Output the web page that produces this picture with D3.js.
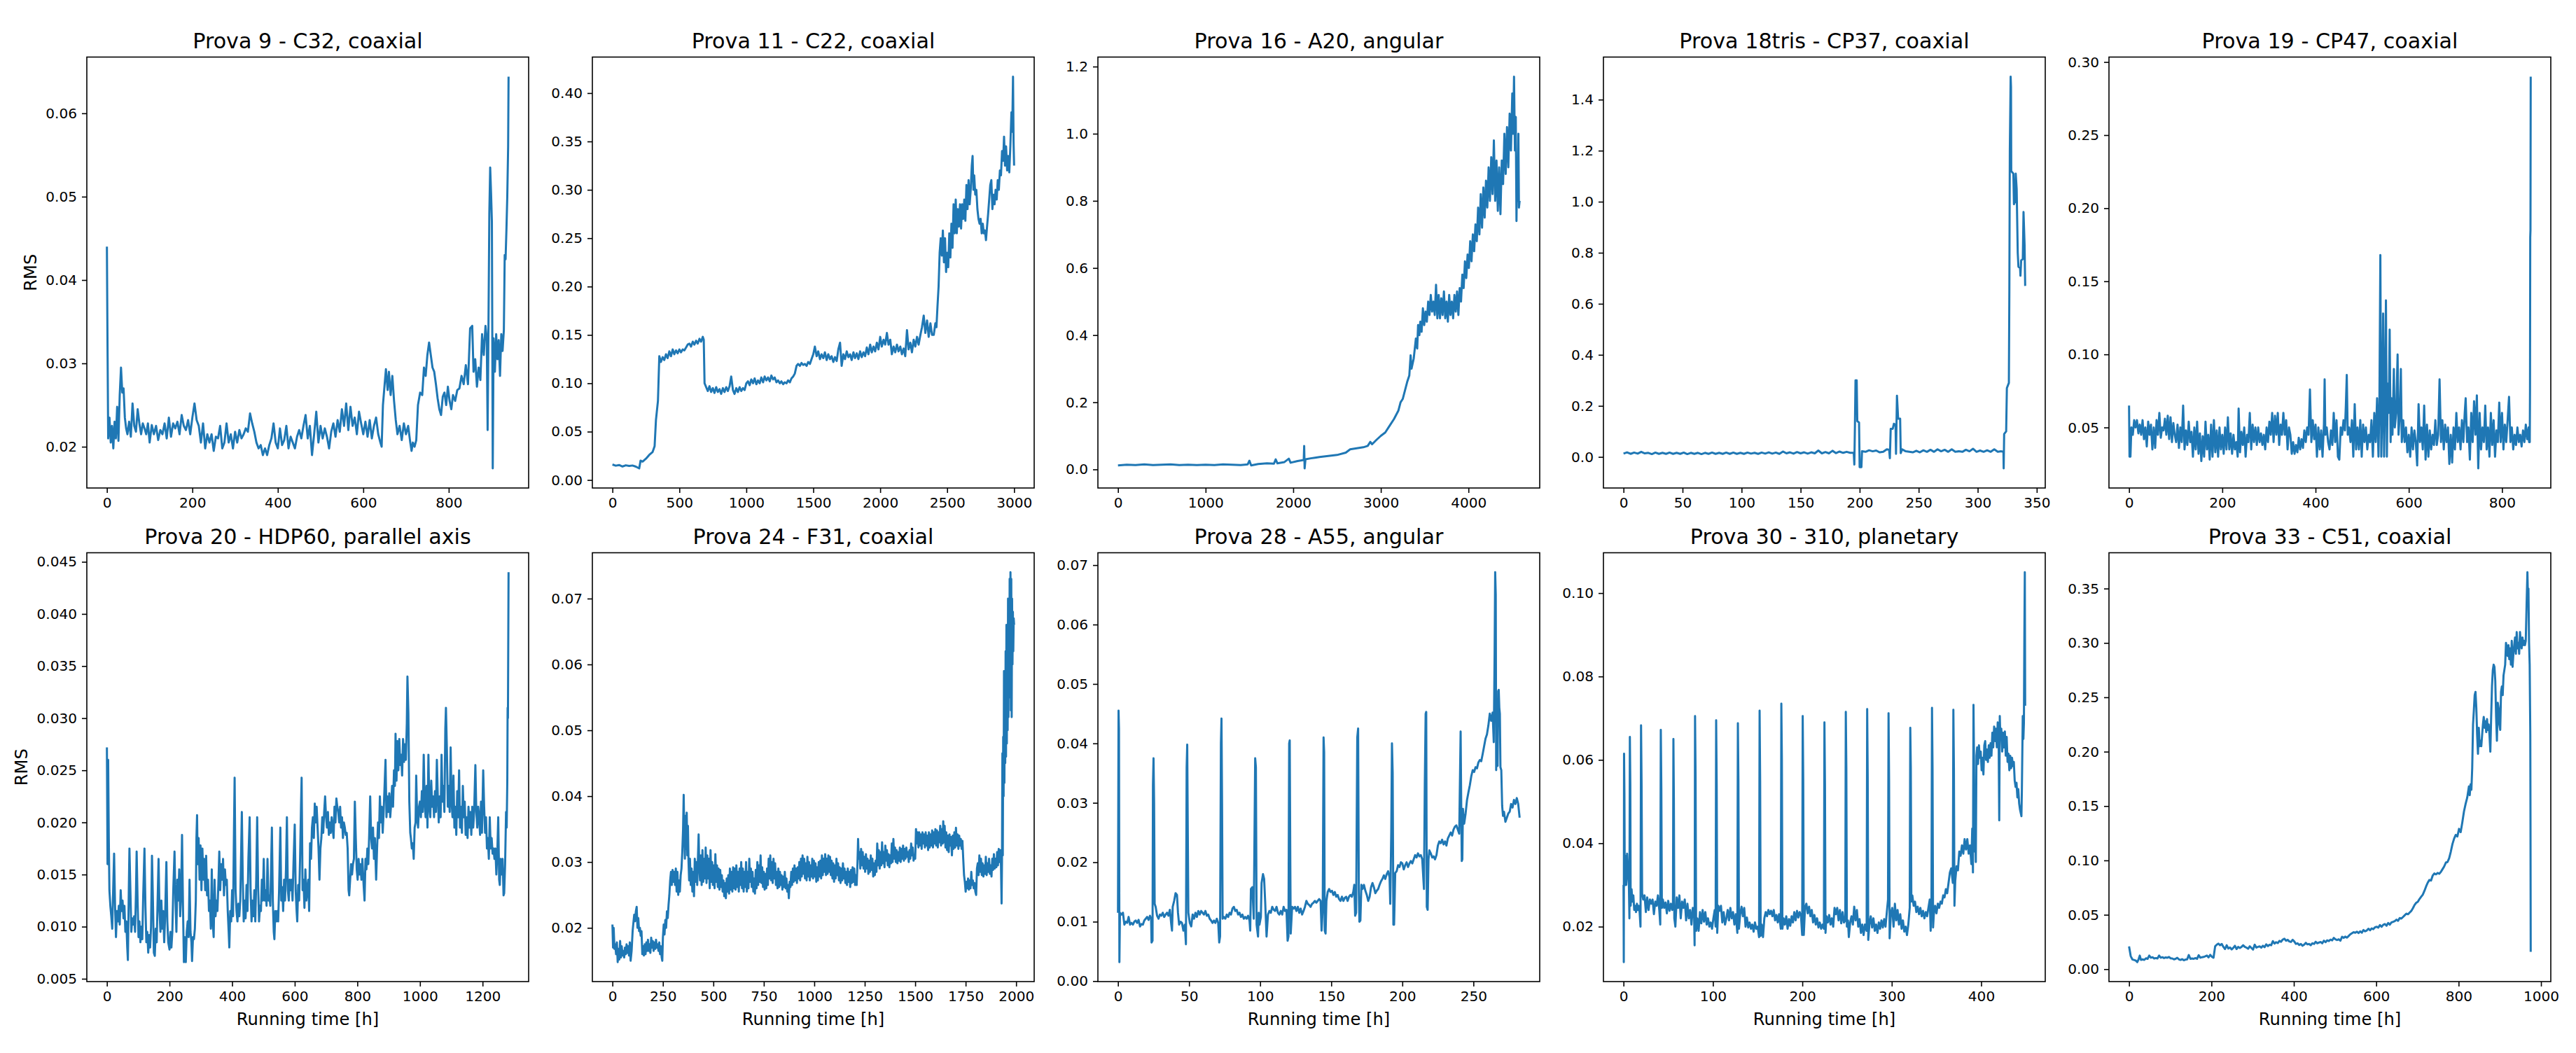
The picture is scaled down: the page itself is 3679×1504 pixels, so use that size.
<!DOCTYPE html>
<html>
<head>
<meta charset="utf-8">
<script src="https://cdn.jsdelivr.net/npm/d3@7"></script>
<style>
  body { margin: 0; background: #fff; }
  svg { display: block; }
  text { font-family: "DejaVu Sans", sans-serif; fill: #000; }
</style>
</head>
<body>
<svg id="fig" width="3679" height="1504"></svg>
<script>
// ---- data: [running time h, RMS] ----
const prova9 = [[0,0.044],[1,0.0355],[3,0.021],[6,0.0235],[9,0.0205],[12,0.0225],[15,0.0198],[18,0.023],[21,0.021],[24,0.0248],[27,0.0207],[30,0.0262],[33,0.0295],[36,0.0265],[39,0.027],[42,0.0235],[45,0.0222],[48,0.0215],[52,0.023],[56,0.0212],[60,0.0252],[64,0.0225],[68,0.0218],[72,0.0245],[76,0.0228],[80,0.0215],[84,0.0228],[88,0.0222],[92,0.0215],[96,0.0228],[100,0.0205],[105,0.0226],[110,0.0215],[115,0.0225],[120,0.0208],[125,0.022],[130,0.0215],[135,0.0228],[140,0.021],[145,0.0235],[150,0.0212],[155,0.0228],[160,0.0222],[165,0.023],[170,0.0215],[175,0.0238],[180,0.0225],[185,0.022],[190,0.0232],[195,0.0215],[200,0.0235],[205,0.0252],[210,0.0232],[215,0.0225],[220,0.0205],[225,0.0228],[230,0.0198],[235,0.0215],[240,0.0205],[245,0.0215],[250,0.0195],[255,0.0212],[260,0.021],[265,0.0225],[270,0.0198],[275,0.0205],[280,0.0228],[285,0.0205],[290,0.0215],[295,0.0198],[300,0.0218],[305,0.0205],[310,0.022],[315,0.021],[320,0.0215],[325,0.0222],[330,0.0218],[335,0.024],[340,0.0228],[345,0.0218],[350,0.0205],[355,0.0198],[360,0.0202],[365,0.019],[370,0.0198],[375,0.019],[380,0.0202],[385,0.021],[390,0.0228],[395,0.0205],[400,0.0198],[405,0.0222],[410,0.0202],[415,0.0208],[420,0.0225],[425,0.0198],[430,0.0212],[435,0.0205],[440,0.0198],[445,0.0212],[450,0.022],[455,0.021],[460,0.0225],[465,0.0238],[470,0.021],[475,0.0225],[480,0.019],[485,0.0215],[490,0.0242],[495,0.0205],[500,0.0225],[505,0.021],[510,0.0222],[515,0.0212],[520,0.0198],[525,0.0218],[530,0.0228],[535,0.0212],[540,0.0232],[545,0.0218],[550,0.0245],[555,0.0225],[560,0.0252],[565,0.022],[570,0.0248],[575,0.0225],[580,0.0235],[585,0.0215],[590,0.0242],[595,0.0228],[600,0.0215],[605,0.023],[610,0.0212],[615,0.0232],[620,0.021],[625,0.0225],[630,0.0235],[635,0.0215],[640,0.0205],[643,0.02],[646,0.025],[650,0.0275],[653,0.0293],[657,0.0268],[660,0.029],[664,0.0262],[668,0.0285],[672,0.0255],[676,0.0232],[680,0.0215],[685,0.0225],[690,0.0208],[695,0.0228],[700,0.0215],[705,0.0225],[710,0.0205],[713,0.0195],[716,0.0205],[720,0.02],[724,0.0208],[728,0.025],[733,0.0265],[738,0.0262],[742,0.0295],[746,0.0285],[750,0.031],[754,0.0325],[758,0.031],[762,0.0295],[766,0.029],[770,0.0275],[774,0.0258],[778,0.0245],[782,0.0238],[786,0.026],[790,0.0265],[794,0.025],[798,0.0272],[802,0.0255],[806,0.0245],[810,0.0262],[815,0.0255],[820,0.0268],[825,0.027],[830,0.0285],[835,0.0275],[840,0.0298],[845,0.0275],[850,0.0342],[855,0.0345],[858,0.029],[862,0.0305],[866,0.0272],[870,0.0295],[874,0.028],[878,0.0335],[882,0.031],[886,0.0345],[889,0.033],[891,0.022],[893,0.0345],[895,0.048],[897,0.0535],[899,0.0505],[901,0.047],[903,0.0174],[905,0.033],[908,0.029],[911,0.0335],[914,0.0305],[917,0.0328],[920,0.0285],[923,0.0335],[926,0.0315],[929,0.034],[931,0.043],[933,0.0425],[935,0.046],[937,0.05],[939,0.056],[940,0.0644]];

const prova11 = [[0,0.016],[25,0.0148],[50,0.0155],[75,0.014],[100,0.0152],[125,0.0145],[150,0.015],[175,0.0138],[200,0.012],[210,0.02],[225,0.019],[250,0.022],[275,0.026],[300,0.029],[315,0.035],[325,0.062],[340,0.082],[350,0.128],[362,0.122],[375,0.127],[387,0.124],[400,0.13],[412,0.126],[425,0.133],[437,0.128],[450,0.135],[462,0.13],[475,0.134],[487,0.131],[500,0.135],[512,0.132],[525,0.135],[537,0.134],[550,0.137],[562,0.14],[575,0.141],[587,0.138],[600,0.143],[612,0.14],[625,0.144],[637,0.141],[650,0.146],[662,0.143],[675,0.148],[682,0.145],[688,0.1],[700,0.096],[712,0.092],[725,0.097],[737,0.091],[750,0.095],[762,0.09],[775,0.096],[787,0.091],[800,0.094],[812,0.089],[825,0.095],[837,0.091],[850,0.096],[862,0.092],[875,0.097],[887,0.107],[900,0.093],[912,0.089],[925,0.095],[937,0.091],[950,0.096],[962,0.092],[975,0.095],[987,0.093],[1000,0.1],[1012,0.102],[1025,0.098],[1037,0.104],[1050,0.1],[1062,0.105],[1075,0.099],[1087,0.103],[1100,0.1],[1112,0.106],[1125,0.101],[1137,0.107],[1150,0.103],[1162,0.106],[1175,0.102],[1187,0.108],[1200,0.104],[1212,0.106],[1225,0.101],[1237,0.103],[1250,0.1],[1262,0.102],[1275,0.099],[1287,0.101],[1300,0.1],[1312,0.103],[1325,0.101],[1337,0.105],[1350,0.107],[1362,0.11],[1375,0.118],[1387,0.12],[1400,0.118],[1412,0.121],[1425,0.119],[1437,0.12],[1450,0.118],[1462,0.122],[1475,0.12],[1487,0.125],[1500,0.13],[1512,0.138],[1525,0.128],[1537,0.133],[1550,0.125],[1562,0.13],[1575,0.126],[1587,0.132],[1600,0.124],[1612,0.13],[1625,0.125],[1637,0.128],[1650,0.122],[1662,0.127],[1675,0.123],[1687,0.135],[1700,0.142],[1712,0.118],[1725,0.13],[1737,0.125],[1750,0.133],[1762,0.127],[1775,0.13],[1787,0.124],[1800,0.132],[1812,0.126],[1825,0.131],[1837,0.125],[1850,0.133],[1862,0.127],[1875,0.132],[1887,0.128],[1900,0.137],[1912,0.13],[1925,0.14],[1937,0.132],[1950,0.138],[1962,0.133],[1975,0.142],[1987,0.135],[2000,0.148],[2012,0.138],[2025,0.145],[2037,0.14],[2050,0.152],[2062,0.14],[2075,0.145],[2087,0.13],[2100,0.138],[2112,0.132],[2125,0.14],[2137,0.133],[2150,0.138],[2162,0.13],[2175,0.136],[2187,0.128],[2200,0.155],[2212,0.135],[2225,0.142],[2237,0.132],[2250,0.145],[2262,0.138],[2275,0.148],[2287,0.14],[2300,0.15],[2312,0.158],[2325,0.17],[2337,0.152],[2350,0.165],[2362,0.148],[2375,0.162],[2387,0.15],[2400,0.15],[2412,0.162],[2420,0.158],[2428,0.18],[2436,0.2],[2444,0.235],[2452,0.25],[2460,0.232],[2468,0.258],[2476,0.225],[2484,0.25],[2492,0.215],[2500,0.235],[2508,0.22],[2516,0.255],[2524,0.23],[2532,0.265],[2540,0.24],[2548,0.285],[2556,0.255],[2564,0.29],[2572,0.255],[2580,0.28],[2588,0.262],[2596,0.285],[2604,0.26],[2612,0.285],[2620,0.27],[2628,0.29],[2636,0.268],[2644,0.305],[2652,0.28],[2660,0.31],[2668,0.285],[2676,0.3],[2684,0.325],[2690,0.335],[2696,0.3],[2702,0.315],[2710,0.295],[2718,0.3],[2726,0.28],[2734,0.27],[2742,0.265],[2750,0.27],[2758,0.255],[2766,0.265],[2774,0.255],[2782,0.258],[2790,0.248],[2798,0.262],[2806,0.275],[2814,0.29],[2822,0.305],[2830,0.31],[2838,0.28],[2846,0.295],[2854,0.285],[2862,0.3],[2870,0.29],[2878,0.31],[2886,0.3],[2894,0.32],[2902,0.315],[2910,0.34],[2918,0.33],[2925,0.355],[2932,0.325],[2940,0.345],[2948,0.32],[2956,0.335],[2964,0.318],[2972,0.345],[2980,0.38],[2986,0.36],[2992,0.417],[2996,0.35],[3000,0.325]];

const prova16 = [[0,0.012],[100,0.014],[200,0.013],[300,0.015],[400,0.013],[500,0.014],[600,0.015],[700,0.013],[800,0.014],[900,0.013],[1000,0.014],[1100,0.013],[1200,0.015],[1300,0.014],[1400,0.013],[1480,0.015],[1500,0.026],[1520,0.012],[1600,0.016],[1700,0.018],[1780,0.017],[1800,0.03],[1820,0.018],[1900,0.022],[1950,0.032],[1970,0.02],[2050,0.025],[2120,0.028],[2125,0.07],[2130,0.003],[2140,0.03],[2200,0.033],[2250,0.035],[2300,0.037],[2400,0.04],[2500,0.043],[2600,0.05],[2650,0.06],[2700,0.062],[2800,0.066],[2850,0.07],[2880,0.082],[2900,0.075],[2950,0.088],[3000,0.1],[3050,0.11],[3100,0.13],[3150,0.15],[3200,0.175],[3225,0.2],[3250,0.21],[3275,0.235],[3300,0.26],[3325,0.28],[3340,0.34],[3350,0.3],[3375,0.33],[3400,0.39],[3415,0.36],[3425,0.43],[3440,0.4],[3450,0.44],[3465,0.41],[3480,0.48],[3495,0.43],[3510,0.47],[3525,0.44],[3540,0.5],[3555,0.46],[3570,0.52],[3585,0.47],[3600,0.5],[3615,0.46],[3630,0.55],[3645,0.45],[3660,0.52],[3675,0.45],[3690,0.51],[3705,0.46],[3720,0.53],[3735,0.45],[3750,0.5],[3765,0.44],[3780,0.52],[3795,0.46],[3810,0.5],[3825,0.45],[3840,0.52],[3855,0.47],[3870,0.53],[3885,0.46],[3900,0.54],[3915,0.5],[3930,0.58],[3945,0.54],[3960,0.62],[3975,0.57],[3990,0.64],[4005,0.6],[4020,0.68],[4035,0.62],[4050,0.7],[4065,0.65],[4080,0.73],[4095,0.68],[4110,0.78],[4125,0.7],[4140,0.82],[4155,0.72],[4170,0.84],[4185,0.75],[4200,0.86],[4215,0.78],[4230,0.9],[4245,0.8],[4260,0.93],[4275,0.82],[4290,0.98],[4305,0.8],[4320,0.92],[4335,0.77],[4350,0.9],[4365,0.76],[4380,0.92],[4395,0.85],[4410,1.0],[4425,0.88],[4440,1.02],[4455,0.9],[4470,1.06],[4485,0.95],[4500,1.12],[4510,1.0],[4520,1.17],[4530,0.95],[4540,1.05],[4548,0.74],[4555,0.9],[4562,0.8],[4570,1.0],[4576,0.78],[4584,0.8]];

const prova18tris = [[0,0.013],[3,0.018],[6,0.012],[9,0.017],[12,0.013],[15,0.02],[18,0.014],[21,0.016],[24,0.011],[27,0.017],[30,0.012],[33,0.016],[36,0.012],[39,0.017],[42,0.012],[45,0.016],[48,0.012],[51,0.017],[54,0.011],[57,0.016],[60,0.012],[63,0.016],[66,0.011],[69,0.016],[72,0.012],[75,0.017],[78,0.012],[81,0.016],[84,0.012],[87,0.017],[90,0.012],[93,0.017],[96,0.012],[99,0.016],[102,0.012],[105,0.017],[108,0.013],[111,0.016],[114,0.012],[117,0.017],[120,0.013],[123,0.018],[126,0.013],[129,0.017],[132,0.012],[135,0.021],[138,0.014],[141,0.018],[144,0.013],[147,0.019],[150,0.014],[153,0.018],[156,0.013],[159,0.018],[162,0.014],[165,0.025],[168,0.014],[171,0.019],[174,0.014],[177,0.024],[180,0.015],[183,0.021],[186,0.016],[189,0.02],[192,0.016],[195,0.017],[195.5,-0.03],[196,0.12],[196.5,0.3],[197.5,0.3],[198,0.14],[199.5,0.135],[200,-0.04],[201.5,-0.04],[202,0.022],[205,0.02],[208,0.026],[211,0.022],[214,0.025],[217,0.018],[220,0.02],[223,0.03],[225,0.028],[225.6,-0.005],[226.3,0.11],[228,0.11],[229,0.13],[230.4,0.125],[230.8,0.012],[231.6,0.24],[232.6,0.15],[234.3,0.15],[234.8,0.015],[236,0.03],[239,0.022],[242,0.02],[245,0.018],[248,0.024],[251,0.018],[254,0.026],[257,0.02],[260,0.028],[263,0.02],[266,0.03],[269,0.022],[272,0.028],[275,0.02],[278,0.03],[281,0.02],[284,0.022],[287,0.02],[290,0.028],[293,0.022],[296,0.032],[299,0.02],[302,0.025],[305,0.02],[308,0.026],[311,0.02],[314,0.03],[317,0.02],[320,0.022],[321.8,0.02],[322,-0.045],[322.4,0.09],[324.1,0.1],[324.7,0.27],[326.4,0.29],[326.8,0.65],[327.2,1.2],[327.9,1.49],[328.2,1.45],[328.4,1.12],[330.2,1.11],[330.7,0.99],[331.6,1.0],[332.2,1.11],[333,1.05],[333.9,0.8],[334.5,0.745],[335.9,0.74],[336.2,0.71],[336.8,0.77],[338.2,0.775],[338.8,0.96],[339.7,0.83],[340.2,0.67]];

const prova19 = [[0,0.065],[1,0.03],[3,0.03],[5,0.05],[8,0.045],[11,0.055],[14,0.05],[17,0.055],[20,0.046],[23,0.052],[26,0.045],[29,0.055],[32,0.042],[35,0.05],[38,0.037],[41,0.054],[44,0.045],[47,0.052],[50,0.035],[53,0.05],[56,0.036],[59,0.055],[62,0.045],[65,0.06],[68,0.043],[71,0.05],[74,0.048],[77,0.056],[80,0.045],[83,0.058],[86,0.042],[89,0.057],[92,0.04],[95,0.053],[98,0.045],[101,0.04],[104,0.052],[107,0.036],[110,0.05],[113,0.04],[116,0.065],[119,0.035],[122,0.048],[125,0.038],[128,0.054],[131,0.04],[134,0.047],[137,0.03],[140,0.05],[143,0.035],[146,0.054],[149,0.032],[152,0.046],[155,0.027],[158,0.044],[161,0.03],[164,0.054],[167,0.035],[170,0.045],[173,0.028],[176,0.052],[179,0.03],[182,0.055],[185,0.033],[188,0.048],[191,0.03],[194,0.05],[197,0.035],[200,0.045],[203,0.032],[206,0.05],[209,0.035],[212,0.057],[215,0.035],[218,0.046],[221,0.032],[224,0.045],[227,0.035],[230,0.04],[233,0.03],[235,0.063],[238,0.033],[241,0.047],[244,0.038],[247,0.05],[250,0.03],[253,0.045],[256,0.04],[259,0.06],[262,0.035],[265,0.052],[268,0.04],[271,0.05],[274,0.038],[277,0.05],[280,0.04],[283,0.046],[286,0.038],[289,0.045],[292,0.035],[295,0.05],[298,0.04],[301,0.054],[304,0.045],[307,0.06],[310,0.04],[313,0.058],[316,0.045],[319,0.06],[322,0.038],[325,0.052],[328,0.045],[331,0.06],[334,0.045],[337,0.055],[340,0.035],[343,0.05],[346,0.045],[349,0.032],[352,0.04],[355,0.032],[358,0.038],[361,0.033],[364,0.043],[367,0.035],[370,0.042],[373,0.036],[376,0.048],[379,0.04],[382,0.05],[385,0.045],[388,0.076],[391,0.04],[394,0.055],[397,0.042],[400,0.052],[403,0.03],[406,0.05],[409,0.035],[412,0.048],[415,0.03],[418,0.052],[419.5,0.083],[421,0.045],[424,0.05],[427,0.04],[430,0.035],[433,0.048],[436,0.038],[439,0.06],[442,0.04],[445,0.055],[448,0.03],[451,0.028],[454,0.05],[457,0.045],[460,0.055],[463,0.048],[465,0.065],[467,0.086],[469,0.045],[472,0.05],[475,0.04],[478,0.055],[481,0.03],[484,0.066],[487,0.035],[490,0.05],[493,0.035],[496,0.055],[499,0.03],[502,0.052],[505,0.04],[508,0.05],[511,0.035],[514,0.045],[517,0.04],[520,0.055],[523,0.03],[526,0.06],[529,0.04],[532,0.07],[535,0.03],[537,0.068],[539,0.168],[541,0.03],[543,0.06],[545,0.128],[547,0.03],[549,0.07],[551,0.137],[553,0.03],[555,0.08],[557,0.06],[559,0.117],[561,0.04],[563,0.07],[565,0.045],[568,0.09],[570,0.05],[573,0.06],[576,0.1],[578,0.045],[581,0.06],[583,0.09],[585,0.04],[588,0.055],[591,0.04],[594,0.05],[597,0.033],[600,0.045],[603,0.03],[606,0.05],[609,0.035],[612,0.048],[615,0.04],[618,0.024],[621,0.066],[624,0.04],[627,0.05],[630,0.035],[633,0.065],[636,0.028],[639,0.052],[642,0.03],[645,0.048],[648,0.035],[651,0.045],[654,0.038],[657,0.055],[660,0.038],[663,0.045],[666,0.083],[669,0.04],[672,0.055],[675,0.035],[678,0.052],[681,0.04],[684,0.05],[687,0.025],[690,0.045],[693,0.026],[696,0.05],[699,0.035],[702,0.06],[705,0.04],[708,0.05],[711,0.035],[714,0.055],[717,0.04],[720,0.06],[722,0.07],[725,0.04],[728,0.05],[731,0.028],[734,0.06],[737,0.04],[740,0.068],[743,0.045],[746,0.072],[749,0.022],[752,0.06],[755,0.035],[758,0.05],[761,0.04],[764,0.065],[767,0.035],[770,0.05],[773,0.03],[776,0.06],[779,0.038],[782,0.055],[785,0.03],[788,0.048],[791,0.04],[794,0.067],[797,0.04],[800,0.06],[803,0.035],[806,0.052],[809,0.04],[812,0.055],[815,0.071],[818,0.04],[821,0.05],[824,0.035],[827,0.045],[830,0.038],[833,0.05],[836,0.04],[839,0.045],[842,0.037],[845,0.048],[848,0.04],[851,0.052],[854,0.042],[857,0.05],[858,0.04],[859.5,0.04],[860,0.075],[860.5,0.18],[861,0.185],[861.5,0.29]];

const prova20 = [[0,0.0272],[2,0.016],[4,0.026],[6,0.0185],[8,0.0135],[11,0.012],[14,0.011],[17,0.0098],[20,0.0135],[23,0.017],[26,0.012],[29,0.009],[32,0.0115],[35,0.0105],[38,0.012],[41,0.0102],[44,0.0135],[47,0.0115],[50,0.0125],[53,0.0108],[56,0.012],[59,0.0095],[62,0.0105],[65,0.008],[67,0.0068],[70,0.0135],[72,0.0175],[75,0.0135],[78,0.0095],[81,0.0108],[84,0.0102],[87,0.011],[90,0.0095],[93,0.0135],[95,0.0172],[98,0.0125],[101,0.009],[104,0.0105],[107,0.0085],[110,0.01],[113,0.0088],[116,0.013],[120,0.0175],[123,0.012],[126,0.0085],[129,0.0095],[132,0.0075],[135,0.0092],[138,0.008],[141,0.01],[144,0.0168],[147,0.0125],[150,0.0075],[153,0.0072],[156,0.0098],[159,0.0085],[162,0.0125],[165,0.0165],[168,0.0115],[171,0.0095],[174,0.0125],[177,0.0098],[180,0.0115],[183,0.0085],[186,0.011],[190,0.0162],[193,0.0105],[196,0.0085],[200,0.0078],[203,0.0095],[206,0.008],[209,0.0095],[212,0.0135],[216,0.0172],[219,0.0125],[222,0.0095],[225,0.0145],[228,0.0125],[231,0.0155],[234,0.011],[237,0.013],[240,0.0188],[243,0.012],[246,0.0066],[249,0.009],[252,0.0066],[255,0.0095],[258,0.0105],[261,0.009],[264,0.0145],[267,0.0095],[270,0.0085],[272,0.0067],[275,0.009],[278,0.0088],[281,0.0098],[284,0.0125],[286,0.0185],[288,0.0207],[290,0.016],[293,0.0185],[296,0.0145],[299,0.0178],[302,0.0135],[305,0.0175],[308,0.0145],[311,0.0165],[314,0.0135],[317,0.0168],[320,0.013],[323,0.0145],[326,0.0115],[329,0.0125],[332,0.0098],[335,0.0155],[338,0.0105],[341,0.009],[344,0.0145],[347,0.011],[350,0.0125],[353,0.0115],[356,0.014],[359,0.0172],[362,0.0135],[365,0.016],[368,0.0145],[371,0.0165],[374,0.013],[377,0.0155],[380,0.014],[383,0.0145],[386,0.0115],[389,0.0095],[391,0.008],[394,0.0115],[397,0.0105],[400,0.0135],[403,0.011],[406,0.0195],[408,0.0243],[411,0.0135],[414,0.0115],[417,0.0105],[420,0.0122],[423,0.011],[426,0.0125],[429,0.0175],[431,0.021],[434,0.0145],[437,0.0105],[440,0.0125],[443,0.0108],[446,0.014],[449,0.0115],[452,0.0165],[456,0.0205],[459,0.0135],[462,0.0105],[465,0.0125],[468,0.011],[471,0.0135],[474,0.0105],[477,0.0145],[480,0.0205],[483,0.014],[486,0.0105],[489,0.012],[492,0.0115],[495,0.0145],[498,0.0125],[501,0.0165],[504,0.0125],[507,0.0135],[510,0.012],[513,0.0165],[516,0.0125],[519,0.013],[522,0.012],[525,0.0165],[527,0.0195],[530,0.0125],[533,0.0095],[535,0.0088],[538,0.0115],[541,0.0105],[544,0.0115],[547,0.0105],[550,0.0135],[554,0.0195],[557,0.0125],[560,0.0138],[563,0.0115],[566,0.0145],[569,0.0125],[572,0.0155],[575,0.0205],[578,0.0135],[581,0.0125],[584,0.0145],[587,0.0135],[590,0.0145],[593,0.0125],[596,0.016],[600,0.0198],[603,0.0135],[606,0.0115],[608,0.0105],[611,0.014],[614,0.0125],[617,0.0165],[620,0.0215],[622,0.0243],[625,0.0135],[628,0.0145],[631,0.0118],[634,0.0155],[637,0.0125],[640,0.0135],[643,0.0145],[646,0.0115],[649,0.018],[652,0.0165],[655,0.0195],[658,0.0205],[661,0.0185],[664,0.0218],[667,0.02],[670,0.0215],[673,0.0195],[676,0.0175],[679,0.0145],[682,0.0175],[685,0.0185],[688,0.0205],[691,0.019],[694,0.021],[697,0.0225],[700,0.0205],[703,0.0195],[706,0.021],[709,0.0188],[712,0.02],[715,0.019],[718,0.0205],[721,0.0195],[724,0.0185],[727,0.0215],[730,0.02],[733,0.0223],[736,0.0215],[739,0.021],[742,0.02],[745,0.0215],[748,0.0195],[751,0.0205],[754,0.0185],[757,0.02],[760,0.0195],[763,0.0188],[766,0.019],[769,0.0175],[772,0.0135],[774,0.013],[777,0.0145],[780,0.016],[783,0.015],[786,0.016],[789,0.0165],[792,0.022],[795,0.0185],[798,0.0155],[801,0.0145],[804,0.0165],[807,0.015],[810,0.016],[813,0.0145],[816,0.0165],[820,0.014],[823,0.0125],[826,0.0165],[829,0.0155],[832,0.0175],[835,0.016],[838,0.019],[841,0.0225],[844,0.0185],[847,0.0175],[850,0.0195],[853,0.0165],[856,0.0185],[860,0.0145],[863,0.0175],[866,0.02],[869,0.0185],[872,0.0225],[875,0.02],[878,0.0215],[881,0.019],[884,0.021],[887,0.0235],[890,0.026],[893,0.0205],[896,0.0225],[899,0.021],[902,0.0228],[905,0.0205],[908,0.0218],[911,0.0235],[914,0.0215],[917,0.025],[920,0.0235],[922,0.0285],[925,0.024],[928,0.0278],[931,0.025],[934,0.028],[937,0.0255],[940,0.0265],[943,0.0245],[946,0.028],[949,0.0258],[952,0.0275],[955,0.026],[958,0.0295],[960,0.034],[963,0.0305],[966,0.022],[969,0.019],[971,0.0185],[974,0.0175],[977,0.018],[980,0.0165],[983,0.0195],[986,0.02],[988,0.0245],[991,0.0205],[994,0.0195],[997,0.0215],[1000,0.022],[1003,0.0205],[1006,0.023],[1009,0.021],[1012,0.0265],[1015,0.022],[1018,0.0205],[1021,0.0235],[1024,0.0195],[1027,0.0265],[1030,0.0215],[1033,0.0205],[1036,0.024],[1039,0.0215],[1042,0.0225],[1045,0.0205],[1048,0.023],[1051,0.021],[1054,0.026],[1057,0.0225],[1060,0.02],[1063,0.0225],[1066,0.0205],[1069,0.0265],[1072,0.022],[1075,0.0235],[1078,0.021],[1081,0.029],[1083,0.031],[1086,0.027],[1089,0.0215],[1092,0.0235],[1095,0.021],[1098,0.0272],[1101,0.022],[1104,0.0205],[1107,0.0245],[1110,0.0195],[1113,0.0215],[1116,0.0188],[1119,0.023],[1122,0.0205],[1125,0.025],[1128,0.0195],[1131,0.0215],[1134,0.019],[1137,0.0235],[1140,0.0205],[1143,0.022],[1146,0.0188],[1149,0.0205],[1152,0.0185],[1155,0.0215],[1158,0.0195],[1161,0.021],[1164,0.0188],[1167,0.0215],[1170,0.0195],[1173,0.021],[1177,0.0255],[1180,0.021],[1183,0.0195],[1186,0.0215],[1189,0.0205],[1192,0.0188],[1195,0.022],[1198,0.019],[1202,0.025],[1205,0.0215],[1208,0.019],[1211,0.0205],[1214,0.0175],[1217,0.0185],[1220,0.0165],[1223,0.0205],[1226,0.0175],[1229,0.0185],[1232,0.017],[1235,0.0175],[1238,0.0165],[1241,0.0175],[1244,0.015],[1247,0.017],[1250,0.0205],[1253,0.0145],[1255,0.014],[1258,0.0165],[1261,0.015],[1264,0.0165],[1267,0.013],[1269,0.0132],[1272,0.016],[1275,0.021],[1277,0.0195],[1279,0.024],[1280,0.031],[1281,0.03],[1283,0.044]];

const prova24 = [[0,0.0205],[3,0.017],[6,0.02],[10,0.0168],[14,0.0175],[18,0.016],[22,0.0178],[26,0.0148],[30,0.0168],[34,0.0152],[38,0.018],[42,0.0155],[46,0.0172],[50,0.0158],[54,0.0165],[58,0.0155],[62,0.017],[66,0.016],[70,0.0175],[74,0.0162],[78,0.0172],[82,0.0158],[86,0.0178],[90,0.015],[95,0.0165],[100,0.0195],[104,0.0208],[108,0.022],[112,0.021],[116,0.0225],[120,0.0232],[124,0.02],[128,0.0215],[132,0.0195],[136,0.02],[140,0.0188],[144,0.0195],[148,0.016],[152,0.0172],[156,0.0158],[160,0.0175],[164,0.016],[168,0.0178],[172,0.0165],[176,0.0182],[180,0.0165],[184,0.0175],[188,0.0162],[192,0.0185],[196,0.017],[200,0.018],[204,0.0165],[208,0.0178],[212,0.0168],[216,0.0182],[220,0.017],[224,0.0175],[228,0.0165],[232,0.0178],[236,0.016],[240,0.0172],[244,0.0155],[247,0.015],[250,0.0185],[254,0.0205],[258,0.019],[262,0.0212],[266,0.02],[270,0.0225],[274,0.0215],[278,0.0235],[282,0.025],[286,0.0272],[290,0.0285],[294,0.0265],[298,0.0288],[302,0.027],[306,0.0285],[310,0.0265],[314,0.029],[318,0.0255],[322,0.0285],[326,0.025],[330,0.0272],[334,0.0255],[338,0.028],[342,0.029],[346,0.0315],[350,0.035],[353,0.0402],[356,0.034],[359,0.0305],[362,0.037],[365,0.032],[368,0.0375],[371,0.031],[374,0.0355],[377,0.03],[380,0.0272],[384,0.0305],[388,0.0265],[392,0.029],[396,0.0255],[400,0.0285],[404,0.0248],[408,0.0305],[412,0.027],[416,0.03],[420,0.0265],[424,0.031],[427,0.0342],[430,0.0295],[434,0.0272],[438,0.031],[442,0.0265],[446,0.0318],[450,0.027],[454,0.0305],[458,0.0275],[462,0.0322],[466,0.0268],[470,0.031],[474,0.0275],[478,0.0305],[482,0.026],[486,0.0318],[490,0.027],[494,0.03],[498,0.0265],[502,0.0295],[506,0.026],[510,0.0312],[514,0.027],[518,0.0295],[522,0.0262],[526,0.029],[530,0.0258],[534,0.0288],[538,0.0262],[542,0.028],[546,0.0255],[550,0.0272],[554,0.0248],[558,0.0268],[562,0.0245],[566,0.0275],[570,0.0255],[574,0.028],[578,0.0252],[582,0.029],[586,0.0258],[590,0.0285],[594,0.0255],[598,0.0292],[602,0.026],[606,0.029],[610,0.0258],[614,0.0295],[618,0.0262],[622,0.0285],[626,0.0255],[630,0.029],[634,0.0265],[638,0.03],[642,0.026],[646,0.029],[650,0.0255],[654,0.0285],[658,0.0262],[662,0.03],[666,0.0255],[670,0.0285],[674,0.026],[678,0.0305],[682,0.027],[686,0.029],[690,0.0262],[694,0.0285],[698,0.0255],[702,0.0275],[706,0.0252],[710,0.0288],[714,0.026],[718,0.03],[722,0.0265],[726,0.0295],[730,0.027],[734,0.031],[738,0.0268],[742,0.0292],[746,0.0262],[750,0.0285],[754,0.0258],[758,0.0282],[762,0.026],[766,0.029],[770,0.0265],[774,0.0305],[778,0.0275],[782,0.031],[786,0.0272],[790,0.03],[794,0.0268],[798,0.0305],[802,0.0275],[806,0.0298],[810,0.0265],[814,0.0285],[818,0.026],[822,0.029],[826,0.0262],[830,0.0285],[834,0.0265],[838,0.028],[842,0.0258],[846,0.0278],[850,0.0262],[854,0.0285],[858,0.026],[862,0.0275],[866,0.0255],[870,0.0265],[874,0.0245],[878,0.027],[882,0.0262],[886,0.0285],[890,0.0265],[894,0.029],[898,0.027],[902,0.0295],[906,0.0272],[910,0.029],[914,0.0268],[918,0.0292],[922,0.0275],[926,0.03],[930,0.0272],[934,0.0305],[938,0.0278],[942,0.031],[946,0.0282],[950,0.0305],[954,0.0275],[958,0.0298],[962,0.0272],[966,0.0308],[970,0.0278],[974,0.03],[978,0.0272],[982,0.0295],[986,0.0278],[990,0.0305],[994,0.0275],[998,0.0302],[1002,0.0278],[1006,0.0298],[1010,0.027],[1014,0.0292],[1018,0.0272],[1022,0.03],[1026,0.0278],[1030,0.0302],[1034,0.0275],[1038,0.031],[1042,0.028],[1046,0.0305],[1050,0.0285],[1054,0.0312],[1058,0.028],[1062,0.0305],[1066,0.0282],[1070,0.031],[1074,0.0285],[1078,0.0308],[1082,0.028],[1086,0.0302],[1090,0.0275],[1094,0.0298],[1098,0.027],[1102,0.0295],[1106,0.0275],[1110,0.0305],[1114,0.028],[1118,0.0298],[1122,0.0272],[1126,0.0292],[1130,0.0268],[1134,0.029],[1138,0.0272],[1142,0.0298],[1146,0.0275],[1150,0.029],[1154,0.0268],[1158,0.0285],[1162,0.0265],[1166,0.029],[1170,0.027],[1174,0.0285],[1178,0.0262],[1182,0.0288],[1186,0.0268],[1190,0.0292],[1194,0.027],[1198,0.029],[1202,0.0265],[1206,0.028],[1210,0.0265],[1214,0.0298],[1217,0.0335],[1220,0.0305],[1224,0.0315],[1228,0.029],[1232,0.032],[1236,0.0295],[1240,0.0315],[1244,0.029],[1248,0.0308],[1252,0.0285],[1256,0.0312],[1260,0.029],[1264,0.0305],[1268,0.0282],[1272,0.0302],[1276,0.0285],[1280,0.031],[1284,0.0288],[1288,0.0305],[1292,0.0278],[1296,0.0298],[1300,0.028],[1304,0.0302],[1308,0.0285],[1312,0.0328],[1316,0.0295],[1320,0.0318],[1324,0.029],[1328,0.0315],[1332,0.0295],[1336,0.033],[1340,0.0298],[1344,0.0315],[1348,0.0292],[1352,0.0325],[1356,0.0302],[1360,0.0318],[1364,0.0295],[1368,0.0312],[1372,0.0292],[1376,0.031],[1380,0.0298],[1384,0.0328],[1388,0.03],[1392,0.0335],[1396,0.0305],[1400,0.0322],[1404,0.03],[1408,0.0318],[1412,0.0298],[1416,0.0315],[1420,0.0302],[1424,0.0322],[1428,0.03],[1432,0.032],[1436,0.0305],[1440,0.0325],[1444,0.0302],[1448,0.032],[1452,0.0305],[1456,0.0322],[1460,0.0308],[1464,0.0315],[1468,0.03],[1472,0.0318],[1476,0.0305],[1480,0.0328],[1484,0.031],[1488,0.0322],[1492,0.0302],[1496,0.031],[1500,0.0305],[1504,0.035],[1508,0.0328],[1512,0.0345],[1516,0.0322],[1520,0.0345],[1524,0.0325],[1528,0.0342],[1532,0.032],[1536,0.0345],[1540,0.0328],[1544,0.0342],[1548,0.0322],[1552,0.0345],[1556,0.0325],[1560,0.034],[1564,0.0318],[1568,0.0345],[1572,0.0322],[1576,0.0342],[1580,0.0325],[1584,0.0348],[1588,0.0322],[1592,0.0345],[1596,0.0328],[1600,0.035],[1604,0.0325],[1608,0.0348],[1612,0.0322],[1616,0.0345],[1620,0.033],[1624,0.0355],[1628,0.0325],[1632,0.035],[1636,0.0328],[1639,0.0362],[1642,0.033],[1646,0.0355],[1650,0.0322],[1654,0.0345],[1658,0.0318],[1662,0.034],[1666,0.0315],[1670,0.0342],[1674,0.0325],[1678,0.0338],[1682,0.031],[1686,0.034],[1690,0.032],[1694,0.0345],[1698,0.0322],[1702,0.0352],[1706,0.0325],[1710,0.0342],[1714,0.032],[1718,0.034],[1722,0.0325],[1726,0.0335],[1730,0.032],[1734,0.0332],[1738,0.0305],[1742,0.028],[1746,0.027],[1750,0.0255],[1754,0.027],[1758,0.026],[1762,0.0275],[1766,0.0258],[1770,0.0272],[1774,0.026],[1778,0.0285],[1782,0.0265],[1786,0.0272],[1790,0.026],[1794,0.0268],[1798,0.0255],[1802,0.025],[1806,0.029],[1810,0.0298],[1814,0.028],[1818,0.031],[1822,0.0285],[1826,0.0305],[1830,0.028],[1834,0.0298],[1838,0.0278],[1842,0.0295],[1846,0.0282],[1850,0.0308],[1854,0.028],[1858,0.0298],[1862,0.0285],[1866,0.0305],[1870,0.0282],[1874,0.0295],[1878,0.0278],[1882,0.0305],[1886,0.0288],[1890,0.0312],[1894,0.029],[1898,0.0305],[1902,0.0292],[1906,0.0315],[1910,0.0295],[1914,0.032],[1918,0.03],[1922,0.0318],[1925,0.0295],[1928,0.0237],[1930,0.03],[1932,0.0465],[1934,0.031],[1936,0.049],[1938,0.04],[1940,0.059],[1942,0.042],[1944,0.058],[1946,0.045],[1948,0.062],[1950,0.046],[1952,0.066],[1954,0.048],[1956,0.066],[1958,0.05],[1960,0.07],[1962,0.052],[1964,0.07],[1966,0.055],[1968,0.073],[1970,0.056],[1972,0.074],[1974,0.053],[1976,0.073],[1978,0.052],[1980,0.07],[1982,0.06],[1984,0.068],[1986,0.062],[1988,0.067],[1990,0.066]];

const prova28 = [[0,0.0115],[0.4,0.0455],[0.7,0.0425],[1,0.0032],[1.4,0.0115],[2.5,0.0112],[3.5,0.0115],[4.5,0.0095],[5.5,0.01],[6.5,0.0098],[7.5,0.0108],[8.5,0.0095],[9.5,0.0098],[10.5,0.0095],[11.5,0.01],[12.5,0.0102],[13.5,0.0098],[14.5,0.0103],[15.5,0.0092],[16.5,0.0096],[17.5,0.0095],[18.5,0.0102],[19.5,0.0105],[20.5,0.0108],[21.5,0.0103],[22.5,0.011],[23.3,0.0105],[23.6,0.0065],[24.3,0.0068],[24.6,0.033],[25,0.0375],[25.4,0.03],[25.8,0.013],[26.5,0.0125],[27.5,0.011],[28.5,0.0105],[29.5,0.0112],[30.5,0.011],[31.5,0.0115],[32.5,0.0108],[33.5,0.0112],[34.5,0.0115],[35.5,0.011],[36.5,0.012],[37.5,0.0095],[38,0.0085],[38.5,0.0125],[39.5,0.0135],[40.5,0.0148],[41.5,0.0145],[42.2,0.0115],[43,0.0095],[44,0.01],[45,0.0098],[46,0.0085],[47,0.0095],[47.8,0.0062],[48.3,0.036],[48.7,0.0398],[49.1,0.025],[49.5,0.0115],[50.5,0.0098],[51.5,0.0092],[52.5,0.0112],[53.5,0.0105],[54.5,0.0115],[55.5,0.0108],[56.5,0.0118],[57.5,0.0112],[58.5,0.0118],[59.5,0.0115],[60.5,0.0112],[61.5,0.0118],[62.5,0.011],[63.5,0.0112],[64.5,0.0105],[65.5,0.0102],[66.5,0.0098],[67.5,0.0102],[68.5,0.0098],[69.5,0.0105],[70.5,0.0098],[71.2,0.0065],[71.8,0.0075],[72.4,0.04],[72.8,0.0442],[73.2,0.03],[73.6,0.0105],[74.5,0.0108],[75.5,0.0105],[76.5,0.0112],[77.5,0.0108],[78.5,0.0115],[79.5,0.0112],[80.5,0.0122],[81.5,0.0125],[82.5,0.0118],[83.5,0.012],[84.5,0.0112],[85.5,0.0115],[86.5,0.0108],[87.5,0.0112],[88.5,0.0105],[89.5,0.0108],[90.5,0.0105],[91.5,0.011],[92.5,0.0102],[93,0.0085],[93.5,0.0155],[94.5,0.0158],[95.5,0.0105],[96,0.024],[96.5,0.0375],[97,0.036],[97.5,0.0095],[98.5,0.0075],[99,0.0115],[99.5,0.0095],[100.5,0.0108],[101,0.0165],[102,0.018],[102.8,0.0172],[103.5,0.0135],[104.5,0.0075],[105.5,0.0112],[106.5,0.0118],[107.5,0.0115],[108.5,0.0125],[109.5,0.012],[110.5,0.0118],[111.5,0.0125],[112.5,0.0115],[113.5,0.0112],[114.5,0.0118],[115.5,0.0112],[116.5,0.0125],[117.5,0.0118],[118.5,0.012],[119.3,0.0068],[119.9,0.0075],[120.4,0.04],[120.8,0.0405],[121.2,0.02],[121.5,0.008],[122.5,0.0125],[123.5,0.0122],[124.5,0.0125],[125.5,0.0118],[126.5,0.0125],[127.5,0.0115],[128.5,0.0122],[129.5,0.0112],[130.5,0.0118],[131.5,0.0125],[132.5,0.0135],[133.5,0.013],[134.5,0.0128],[135.5,0.0125],[136.5,0.013],[137.5,0.0132],[138.5,0.0135],[139.5,0.0132],[140.5,0.0135],[141.5,0.0138],[142.5,0.0135],[143.2,0.0085],[144,0.012],[144.6,0.041],[145,0.0385],[145.4,0.0085],[146,0.008],[146.6,0.0135],[147.5,0.015],[148.5,0.0155],[149.5,0.015],[150.5,0.0152],[151.5,0.0145],[152.5,0.015],[153.5,0.0142],[154.5,0.0145],[155.5,0.0138],[156.5,0.0135],[157.5,0.0142],[158.5,0.0135],[159.5,0.014],[160.5,0.0142],[161.5,0.0135],[162.5,0.0142],[163.5,0.0145],[164.5,0.0142],[165.5,0.015],[166.2,0.0162],[166.8,0.011],[167.5,0.0115],[168.3,0.041],[168.9,0.0425],[169.4,0.015],[169.8,0.01],[170.5,0.0102],[171.2,0.0162],[172,0.0155],[173,0.0162],[174,0.0152],[175,0.0145],[176,0.0135],[177,0.0142],[178,0.0158],[179,0.0165],[180,0.0158],[181,0.0148],[182,0.0152],[183,0.0155],[184,0.0162],[185,0.0168],[186,0.0172],[187,0.0178],[188,0.0172],[189,0.018],[190,0.0185],[191,0.0175],[191.5,0.013],[192.2,0.025],[192.7,0.04],[193.2,0.035],[193.7,0.0095],[194.2,0.0095],[195,0.0182],[196,0.0185],[197,0.0195],[198,0.0192],[199,0.02],[200,0.0198],[201,0.0188],[202,0.0195],[203,0.02],[204,0.0192],[205,0.0198],[206,0.0202],[207,0.0198],[208,0.0205],[209,0.0212],[210,0.0208],[211,0.0215],[212,0.021],[213,0.0212],[214,0.0205],[215.2,0.0155],[215.8,0.033],[216.4,0.045],[216.8,0.0453],[217.2,0.0125],[217.8,0.012],[218.4,0.0205],[219,0.022],[220,0.0215],[221,0.0208],[222,0.021],[223,0.0205],[224,0.0212],[225,0.0228],[226,0.0235],[227,0.0232],[228,0.0238],[229,0.023],[230,0.0235],[231,0.0228],[232,0.024],[233,0.0245],[234,0.025],[235,0.0245],[236,0.0255],[237,0.026],[238,0.0262],[239,0.0255],[240,0.0248],[240.6,0.035],[241,0.042],[241.4,0.03],[241.8,0.0202],[242.2,0.0205],[242.6,0.029],[243.5,0.0265],[244.5,0.0282],[245.5,0.0305],[246.5,0.0318],[247.5,0.033],[248.5,0.0345],[249.5,0.0355],[250.5,0.0352],[251.5,0.036],[252.5,0.0358],[253.5,0.0368],[254.5,0.0372],[255.5,0.037],[256.5,0.0382],[257.5,0.0395],[258.5,0.0408],[259.5,0.0415],[260.5,0.043],[261.5,0.045],[262.5,0.0438],[263.5,0.0452],[264.3,0.0402],[264.9,0.055],[265.3,0.0688],[265.7,0.065],[266,0.0355],[266.5,0.045],[267,0.0362],[267.4,0.0488],[267.8,0.049],[268.2,0.046],[268.6,0.045],[269,0.036],[269.6,0.0355],[270.2,0.0295],[270.8,0.0278],[271.5,0.0285],[272.5,0.0268],[273.5,0.0275],[274.5,0.0282],[275.5,0.0285],[276.5,0.0298],[277.5,0.0292],[278.5,0.0305],[279.5,0.0298],[280.5,0.0308],[281.5,0.0298],[282.5,0.0275]];

const prova30 = [[0,0.03],[0.3,0.0115],[0.6,0.0615],[1,0.052],[1.4,0.03],[2,0.037],[3,0.03],[4,0.0375],[5,0.033],[6,0.03],[6.6,0.022],[7.1,0.0655],[7.6,0.054],[8,0.025],[9,0.029],[10,0.026],[11,0.0275],[12,0.024],[13,0.025],[14,0.0235],[15,0.0255],[16,0.024],[17,0.025],[18,0.0235],[19,0.02],[19.6,0.0683],[20.2,0.054],[20.8,0.028],[22,0.0265],[23.5,0.0275],[25,0.0235],[26.5,0.027],[28,0.024],[29.5,0.0265],[31,0.0255],[32.5,0.0265],[34,0.023],[35.5,0.026],[37,0.025],[38.5,0.0275],[40,0.024],[41.1,0.0205],[41.7,0.0672],[42.3,0.053],[42.9,0.0245],[44,0.0265],[45.5,0.0245],[47,0.0258],[48.5,0.0232],[50,0.0262],[51.5,0.0238],[53,0.0255],[54.5,0.024],[55.3,0.025],[55.8,0.065],[56.3,0.051],[56.8,0.022],[58,0.02],[59.5,0.027],[61,0.0245],[62.5,0.0275],[64,0.022],[65.5,0.026],[67,0.0245],[68.5,0.0265],[70,0.0215],[71.5,0.0255],[73,0.022],[74.5,0.024],[76,0.0205],[77.5,0.0245],[79,0.0222],[79.5,0.0155],[80,0.0705],[80.6,0.056],[81.2,0.019],[82.5,0.022],[84,0.019],[85.5,0.0235],[87,0.0208],[88.5,0.024],[90,0.0212],[91.5,0.0235],[93,0.0205],[94.5,0.022],[96,0.02],[97.5,0.021],[99,0.0195],[100.5,0.022],[102,0.024],[103,0.02],[103.6,0.0695],[104.2,0.054],[104.8,0.0185],[106,0.025],[107.5,0.0238],[109,0.025],[110.5,0.021],[112,0.0235],[113.5,0.0205],[115,0.022],[116.5,0.024],[118,0.0215],[119.5,0.0245],[121,0.022],[122.5,0.0235],[124,0.0205],[125.5,0.023],[127.3,0.0185],[127.9,0.0688],[128.5,0.055],[129.1,0.0195],[130.5,0.023],[132,0.0248],[133.5,0.0225],[135,0.0245],[136.5,0.02],[138,0.0222],[139.5,0.0198],[141,0.021],[142.5,0.0195],[144,0.0205],[145.5,0.0188],[147,0.021],[148.5,0.0195],[150,0.02],[151.6,0.0175],[152.2,0.0718],[152.8,0.055],[153.4,0.0178],[154.5,0.0205],[156,0.0175],[157.5,0.022],[159,0.0235],[160.5,0.0225],[162,0.024],[163.5,0.023],[165,0.0238],[166.5,0.0225],[168,0.024],[169.5,0.0215],[171,0.0228],[172.5,0.021],[174,0.023],[175.9,0.0195],[176.5,0.0735],[177.1,0.06],[177.7,0.0195],[179,0.022],[180.5,0.0205],[182,0.0225],[183.5,0.0195],[185,0.0218],[186.5,0.0202],[188,0.0225],[189.5,0.021],[191,0.0235],[192.5,0.0215],[194,0.0238],[195.5,0.0222],[197,0.0235],[198.5,0.0225],[199.8,0.018],[200.4,0.0705],[201,0.055],[201.6,0.018],[203,0.0245],[204.5,0.0255],[206,0.0232],[207.5,0.0248],[209,0.0225],[210.5,0.024],[212,0.021],[213.5,0.0228],[215,0.0205],[216.5,0.022],[218,0.0198],[219.5,0.021],[221,0.0195],[222.5,0.0205],[224.1,0.0195],[224.7,0.069],[225.3,0.054],[225.9,0.0185],[227,0.0225],[228.5,0.021],[230,0.0228],[231.5,0.0205],[233,0.022],[234.5,0.02],[236,0.0245],[237.5,0.023],[239,0.0245],[240.5,0.0215],[242,0.024],[243.5,0.0208],[245,0.0235],[246.5,0.021],[248,0.0215],[248.6,0.0715],[249.2,0.058],[249.8,0.02],[251,0.0215],[252,0.0175],[253.5,0.021],[255,0.0225],[256.5,0.0205],[258,0.0248],[259.5,0.0215],[261,0.024],[262.5,0.02],[264,0.0218],[265.5,0.0185],[267,0.0205],[268.5,0.018],[270,0.0205],[271.9,0.019],[272.5,0.0722],[273.1,0.056],[273.7,0.0168],[275,0.0205],[276.5,0.0225],[278,0.0198],[279.5,0.022],[281,0.019],[282.5,0.0205],[284,0.0185],[285.5,0.021],[287,0.0195],[288.5,0.0215],[290,0.0198],[291.5,0.0218],[293,0.02],[294.5,0.0235],[295.8,0.0265],[296.4,0.0712],[297,0.055],[297.6,0.0172],[299,0.0232],[300.5,0.0245],[302,0.02],[303.5,0.0255],[305,0.0215],[306.5,0.024],[308,0.0205],[309.5,0.023],[311,0.0195],[312.5,0.0215],[314,0.0188],[315.5,0.02],[317,0.018],[318.5,0.0205],[320.1,0.0245],[320.7,0.0677],[321.3,0.058],[321.9,0.026],[323,0.0275],[324.5,0.025],[326,0.026],[327.5,0.0235],[329,0.0248],[330.5,0.023],[332,0.0245],[333.5,0.0225],[335,0.0238],[336.5,0.022],[338,0.0235],[339.5,0.0225],[341,0.0245],[342.5,0.0265],[343.5,0.019],[344.4,0.0265],[345,0.0725],[345.6,0.058],[346.2,0.0198],[347,0.0228],[348.5,0.025],[350,0.0232],[351.5,0.0255],[353,0.0245],[354.5,0.026],[356,0.0255],[357.5,0.0275],[359,0.027],[360.5,0.029],[362,0.028],[363.5,0.0305],[365,0.033],[366.5,0.034],[368.3,0.0305],[368.9,0.072],[369.5,0.058],[370.1,0.025],[371,0.031],[372.5,0.0345],[374,0.0335],[375.5,0.038],[377,0.037],[378.5,0.0395],[380,0.0375],[381.5,0.041],[383,0.0385],[384.5,0.041],[386,0.0375],[387.5,0.0395],[389,0.035],[390,0.0435],[390.8,0.033],[391.4,0.0732],[392,0.06],[392.6,0.038],[393.4,0.043],[394,0.0355],[394.7,0.061],[395.5,0.063],[396.5,0.059],[397.5,0.0635],[398.5,0.0605],[399.5,0.062],[400.5,0.0575],[401.5,0.0605],[402.5,0.0565],[403.5,0.0635],[404.5,0.0645],[405.5,0.06],[406.5,0.0625],[407.5,0.0595],[408.5,0.0635],[409.5,0.0605],[410.5,0.064],[411.5,0.061],[412.5,0.0665],[413.5,0.063],[414.5,0.068],[415.5,0.0645],[416.5,0.0675],[417.5,0.063],[418.5,0.069],[419.5,0.0655],[420.2,0.0455],[420.8,0.0705],[421.5,0.065],[422.5,0.0675],[423.5,0.062],[424.5,0.0665],[425.5,0.063],[426.5,0.0668],[427.5,0.061],[428.5,0.0655],[429.5,0.0595],[430.5,0.0615],[431.5,0.0575],[432.5,0.061],[433.5,0.058],[434.5,0.0605],[435.5,0.0585],[436.5,0.0595],[437.5,0.055],[438.5,0.0535],[439.5,0.0545],[440.5,0.051],[441.5,0.053],[442.5,0.0495],[443.5,0.048],[444.5,0.047],[445,0.0465],[445.5,0.0525],[446.5,0.0705],[447.2,0.065],[447.8,0.069],[448.3,0.09],[448.8,0.105],[449.2,0.073]];

const prova33 = [[0,0.021],[4,0.012],[8,0.009],[12,0.0085],[16,0.008],[20,0.0065],[23,0.009],[26,0.0125],[29,0.0085],[33,0.009],[37,0.0085],[41,0.01],[45,0.0095],[49,0.0125],[53,0.0105],[57,0.011],[61,0.0098],[65,0.0102],[69,0.0098],[73,0.0125],[77,0.0105],[81,0.011],[85,0.0102],[89,0.0108],[93,0.0105],[97,0.0112],[101,0.01],[105,0.0098],[109,0.009],[113,0.0095],[117,0.0105],[121,0.009],[125,0.0085],[129,0.0092],[133,0.0082],[137,0.0088],[141,0.009],[145,0.013],[149,0.0095],[153,0.0098],[157,0.0095],[161,0.0102],[165,0.0095],[169,0.0128],[173,0.0105],[177,0.011],[181,0.0112],[185,0.0118],[189,0.0125],[193,0.0108],[197,0.0132],[201,0.0115],[205,0.0105],[209,0.021],[213,0.0225],[217,0.0235],[221,0.022],[225,0.0232],[229,0.0205],[233,0.0185],[237,0.022],[241,0.019],[245,0.02],[249,0.0182],[253,0.0195],[257,0.0215],[261,0.0185],[265,0.0205],[269,0.0195],[273,0.0205],[277,0.022],[281,0.0205],[285,0.0198],[289,0.0188],[293,0.021],[297,0.0195],[301,0.018],[305,0.0225],[309,0.0198],[313,0.0205],[317,0.021],[321,0.0198],[325,0.0215],[329,0.0202],[333,0.0228],[337,0.0212],[341,0.0225],[345,0.022],[349,0.0258],[353,0.0235],[357,0.0248],[361,0.024],[365,0.026],[369,0.0252],[373,0.0272],[377,0.028],[381,0.0262],[385,0.027],[389,0.0255],[393,0.025],[397,0.027],[401,0.0255],[405,0.0232],[409,0.0238],[413,0.0222],[417,0.0232],[421,0.0215],[425,0.0225],[429,0.0242],[433,0.0228],[437,0.0232],[441,0.022],[445,0.0238],[449,0.0232],[453,0.0252],[457,0.0238],[461,0.0245],[465,0.025],[469,0.0238],[473,0.0262],[477,0.0248],[481,0.0265],[485,0.0258],[489,0.0272],[493,0.0265],[497,0.0288],[501,0.0275],[505,0.0268],[509,0.0275],[513,0.0262],[517,0.0298],[521,0.0288],[525,0.03],[529,0.029],[533,0.0305],[537,0.032],[541,0.033],[545,0.034],[549,0.0335],[553,0.0345],[557,0.0332],[561,0.0348],[565,0.0335],[569,0.036],[573,0.0348],[577,0.0355],[581,0.0372],[585,0.0358],[589,0.0375],[593,0.0368],[597,0.0385],[601,0.039],[605,0.0382],[609,0.0405],[613,0.039],[617,0.0408],[621,0.0415],[625,0.04],[629,0.0425],[633,0.041],[637,0.043],[641,0.0435],[645,0.0442],[649,0.0455],[653,0.0445],[657,0.047],[661,0.0465],[665,0.048],[669,0.0495],[673,0.051],[677,0.0505],[681,0.052],[685,0.0535],[689,0.056],[693,0.059],[697,0.061],[701,0.062],[705,0.0645],[709,0.0665],[713,0.0685],[717,0.072],[721,0.076],[725,0.0795],[729,0.082],[733,0.0815],[737,0.086],[741,0.088],[745,0.0872],[749,0.0885],[753,0.0878],[757,0.0895],[761,0.092],[765,0.0945],[769,0.098],[773,0.0985],[777,0.102],[781,0.108],[785,0.115],[789,0.12],[793,0.1235],[797,0.122],[801,0.129],[805,0.126],[809,0.135],[813,0.145],[817,0.152],[821,0.158],[825,0.168],[827,0.16],[829,0.17],[831,0.165],[833,0.185],[835,0.225],[837,0.238],[839,0.252],[841,0.255],[843,0.24],[845,0.215],[847,0.198],[849,0.222],[851,0.205],[853,0.21],[855,0.205],[857,0.215],[859,0.225],[861,0.232],[863,0.222],[865,0.228],[867,0.218],[869,0.23],[871,0.22],[873,0.225],[875,0.215],[877,0.2],[879,0.232],[881,0.26],[883,0.275],[885,0.28],[887,0.278],[889,0.265],[891,0.232],[893,0.21],[895,0.245],[897,0.24],[899,0.225],[901,0.22],[903,0.255],[905,0.26],[907,0.252],[909,0.27],[911,0.275],[913,0.28],[915,0.3],[917,0.295],[919,0.288],[921,0.298],[923,0.285],[925,0.295],[927,0.28],[929,0.302],[931,0.278],[933,0.29],[935,0.298],[937,0.305],[939,0.29],[941,0.31],[943,0.295],[945,0.3],[947,0.29],[949,0.31],[951,0.3],[953,0.295],[955,0.305],[957,0.298],[959,0.302],[961,0.298],[963,0.302],[965,0.335],[967,0.365],[968.5,0.34],[969.5,0.35],[971,0.3],[972.5,0.28],[974,0.215],[974.5,0.13],[975,0.016]];

// ---- titles and ticks ----
const titles = ["Prova 9 - C32, coaxial", "Prova 11 - C22, coaxial", "Prova 16 - A20, angular",
  "Prova 18tris - CP37, coaxial", "Prova 19 - CP47, coaxial", "Prova 20 - HDP60, parallel axis",
  "Prova 24 - F31, coaxial", "Prova 28 - A55, angular", "Prova 30 - 310, planetary", "Prova 33 - C51, coaxial"];

const xTicks9 = [0, 200, 400, 600, 800];
const yTicks9 = [0.02, 0.03, 0.04, 0.05, 0.06];
const xTicks11 = [0, 500, 1000, 1500, 2000, 2500, 3000];
const yTicks11 = [0, 0.05, 0.10, 0.15, 0.20, 0.25, 0.30, 0.35, 0.40];
const xTicks16 = [0, 1000, 2000, 3000, 4000];
const yTicks16 = [0, 0.2, 0.4, 0.6, 0.8, 1.0, 1.2];
const xTicks18 = [0, 50, 100, 150, 200, 250, 300, 350];
const yTicks18 = [0, 0.2, 0.4, 0.6, 0.8, 1.0, 1.2, 1.4];
const xTicks19 = [0, 200, 400, 600, 800];
const yTicks19 = [0.05, 0.10, 0.15, 0.20, 0.25, 0.30];
const xTicks20 = [0, 200, 400, 600, 800, 1000, 1200];
const yTicks20 = [0.005, 0.010, 0.015, 0.020, 0.025, 0.030, 0.035, 0.040, 0.045];
const xTicks24 = [0, 250, 500, 750, 1000, 1250, 1500, 1750, 2000];
const yTicks24 = [0.02, 0.03, 0.04, 0.05, 0.06, 0.07];
const xTicks28 = [0, 50, 100, 150, 200, 250];
const yTicks28 = [0, 0.01, 0.02, 0.03, 0.04, 0.05, 0.06, 0.07];
const xTicks30 = [0, 100, 200, 300, 400];
const yTicks30 = [0.02, 0.04, 0.06, 0.08, 0.10];
const xTicks33 = [0, 200, 400, 600, 800, 1000];
const yTicks33 = [0, 0.05, 0.10, 0.15, 0.20, 0.25, 0.30, 0.35];

const panels = [
  { data: prova9, xt: xTicks9, yt: yTicks9, fmt: ".2f" },
  { data: prova11, xt: xTicks11, yt: yTicks11, fmt: ".2f" },
  { data: prova16, xt: xTicks16, yt: yTicks16, fmt: ".1f" },
  { data: prova18tris, xt: xTicks18, yt: yTicks18, fmt: ".1f" },
  { data: prova19, xt: xTicks19, yt: yTicks19, fmt: ".2f" },
  { data: prova20, xt: xTicks20, yt: yTicks20, fmt: ".3f" },
  { data: prova24, xt: xTicks24, yt: yTicks24, fmt: ".2f" },
  { data: prova28, xt: xTicks28, yt: yTicks28, fmt: ".2f" },
  { data: prova30, xt: xTicks30, yt: yTicks30, fmt: ".2f" },
  { data: prova33, xt: xTicks33, yt: yTicks33, fmt: ".2f" },
];

// ---- layout ----
const colLeft = [124, 846, 1568, 2290, 3012];
const axW = 631;
const rowTop = [81.5, 789.5];
const rowBot = [697, 1402];
const tickFont = 20.1, labelFont = 24.2, titleFont = 30.2;

const svg = d3.select("#fig");

panels.forEach((p, i) => {
  const r = Math.floor(i / 5), c = i % 5;
  const x0 = colLeft[c], x1 = x0 + axW, y0 = rowTop[r], y1 = rowBot[r];

  // matplotlib-like 5% margins around the data
  const [tMin, tMax] = d3.extent(p.data, d => d[0]);
  const [vMin, vMax] = d3.extent(p.data, d => d[1]);
  const mx = (tMax - tMin) * 0.05, my = (vMax - vMin) * 0.05;
  const x = d3.scaleLinear().domain([tMin - mx, tMax + mx]).range([x0, x1]);
  const y = d3.scaleLinear().domain([vMin - my, vMax + my]).range([y1, y0]);

  const g = svg.append("g");

  g.append("path")
    .datum(p.data)
    .attr("fill", "none")
    .attr("stroke", "#1f77b4")
    .attr("stroke-width", 3)
    .attr("stroke-linejoin", "round")
    .attr("d", d3.line().x(d => x(d[0])).y(d => y(d[1])));

  const xa = g.append("g")
    .attr("transform", `translate(0,${y1})`)
    .call(d3.axisBottom(x).tickValues(p.xt).tickFormat(d3.format("d")).tickSize(7).tickPadding(7));
  const ya = g.append("g")
    .attr("transform", `translate(${x0},0)`)
    .call(d3.axisLeft(y).tickValues(p.yt).tickFormat(d3.format(p.fmt)).tickSize(7).tickPadding(7));

  [xa, ya].forEach(a => {
    a.attr("font-family", null).attr("font-size", null);
    a.select(".domain").remove();
    a.selectAll(".tick line").attr("stroke", "#000").attr("stroke-width", 1.6);
    a.selectAll(".tick text").style("font-size", tickFont + "px").attr("fill", "#000");
  });

  // frame
  g.append("rect")
    .attr("x", x0).attr("y", y0)
    .attr("width", axW).attr("height", y1 - y0)
    .attr("fill", "none").attr("stroke", "#000").attr("stroke-width", 1.6);

  g.append("text")
    .attr("x", (x0 + x1) / 2).attr("y", y0 - 12.5)
    .attr("text-anchor", "middle")
    .style("font-size", titleFont + "px")
    .text(titles[i]);

  if (r === 1) {
    g.append("text")
      .attr("x", (x0 + x1) / 2).attr("y", y1 + 61.5)
      .attr("text-anchor", "middle")
      .style("font-size", labelFont + "px")
      .text("Running time [h]");
  }

  if (c === 0) {
    let maxW = 0;
    ya.selectAll(".tick text").each(function () { maxW = Math.max(maxW, this.getBBox().width); });
    const bx = x0 - 14 - maxW - 8 - 0.236 * labelFont;
    g.append("text")
      .attr("transform", `translate(${bx},${(y0 + y1) / 2}) rotate(-90)`)
      .attr("text-anchor", "middle")
      .style("font-size", labelFont + "px")
      .text("RMS");
  }
});
</script>
</body>
</html>
